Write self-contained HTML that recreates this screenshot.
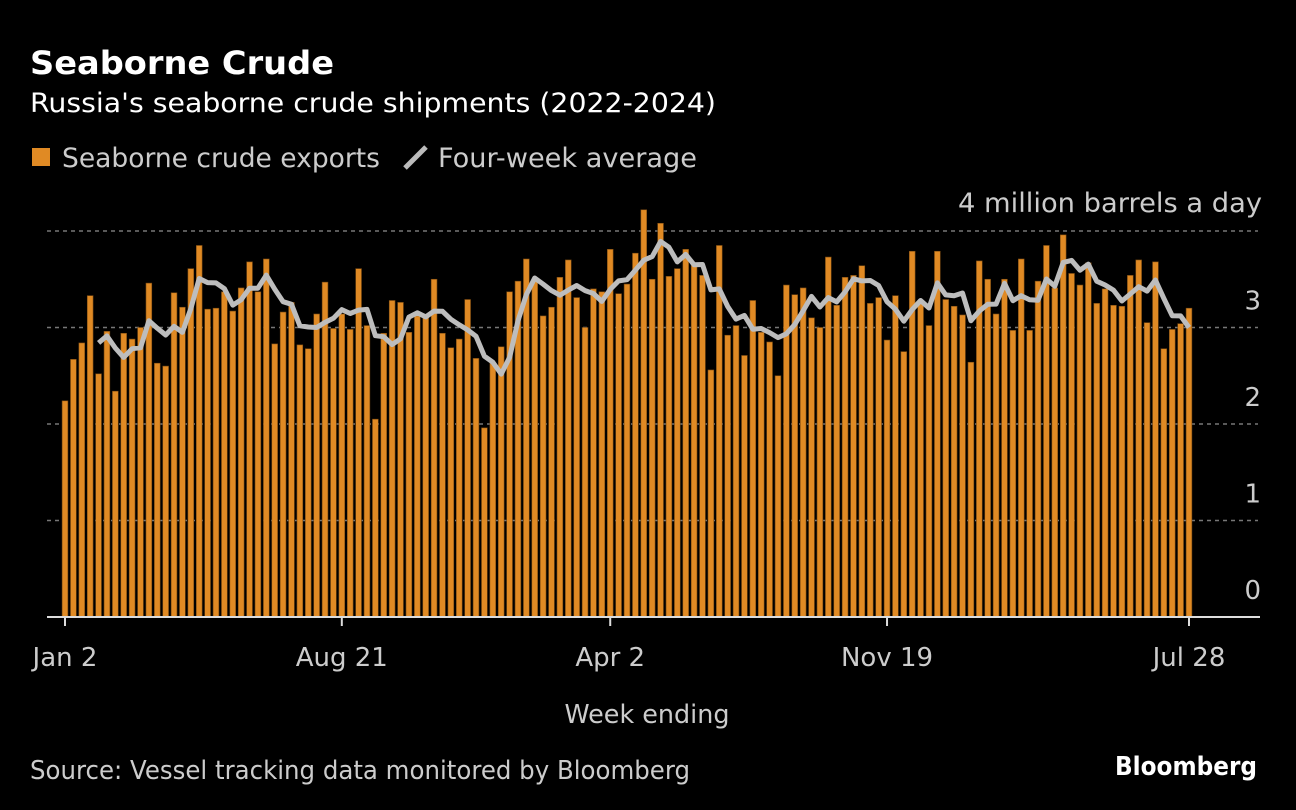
<!DOCTYPE html>
<html><head><meta charset="utf-8"><style>
html,body{margin:0;padding:0;background:#000;}
svg{display:block;font-family:"DejaVu Sans","Liberation Sans",sans-serif;}
</style></head><body>
<svg id="chart" width="1296" height="810" viewBox="0 0 1296 810">
<text x="30" y="74" fill="#fff" font-size="32" font-weight="bold" textLength="304" lengthAdjust="spacingAndGlyphs">Seaborne Crude</text>
<text x="30" y="112" fill="#fff" font-size="27" textLength="686" lengthAdjust="spacingAndGlyphs">Russia's seaborne crude shipments (2022-2024)</text>
<g>
<rect x="32" y="148" width="18" height="18" fill="#e08a24"/>
<text x="62" y="167" fill="#ccc" font-size="27" textLength="318" lengthAdjust="spacingAndGlyphs">Seaborne crude exports</text>
<line x1="405" y1="168" x2="426" y2="147" stroke="#bbb" stroke-width="5"/>
<text x="438" y="167" fill="#ccc" font-size="27" textLength="259" lengthAdjust="spacingAndGlyphs">Four-week average</text>
</g>
<text x="1262" y="212" fill="#ccc" font-size="27" text-anchor="end" textLength="304" lengthAdjust="spacingAndGlyphs">4 million barrels a day</text>
<g id="grid"></g>
<g id="bars"></g>
<g id="line"></g>
<g id="xaxis"></g>
<text x="647" y="723" fill="#ccc" font-size="26" text-anchor="middle" textLength="165" lengthAdjust="spacingAndGlyphs">Week ending</text>
<text x="30" y="779" fill="#ccc" font-size="26" textLength="660" lengthAdjust="spacingAndGlyphs">Source: Vessel tracking data monitored by Bloomberg</text>
<text x="1257" y="775" fill="#fff" font-size="26" font-weight="bold" text-anchor="end" textLength="142" lengthAdjust="spacingAndGlyphs">Bloomberg</text>
</svg>
<script>
const exportsValues=[2.24,2.67,2.84,3.33,2.52,2.96,2.34,2.94,2.88,3.00,3.46,2.63,2.60,3.36,3.21,3.61,3.85,3.19,3.20,3.37,3.17,3.41,3.68,3.37,3.71,2.83,3.16,3.26,2.82,2.78,3.14,3.47,2.99,3.14,2.98,
3.61,3.02,2.05,2.94,3.28,3.26,2.95,3.12,3.11,3.50,2.94,2.79,2.88,3.29,2.68,1.96,2.63,2.80,3.37,3.48,3.71,3.49,3.12,3.21,3.52,3.70,3.31,3.00,3.40,3.37,3.81,3.35,3.45,3.77,
4.22,3.50,4.08,3.53,3.61,3.81,3.65,3.54,2.56,3.85,2.92,3.02,2.71,3.28,2.95,2.85,2.50,3.44,3.34,3.41,3.10,3.00,3.73,3.23,3.52,3.54,3.64,3.25,3.31,2.87,3.33,2.75,3.79,3.25,
3.02,3.79,3.29,3.22,3.13,2.64,3.69,3.50,3.14,3.50,2.97,3.71,2.97,3.48,3.85,3.41,3.96,3.56,3.44,3.67,3.25,3.40,3.23,3.22,3.54,3.70,3.05,3.68,2.78,2.98,3.04,3.20];
const yTicks=[0,1,2,3,4];
const yTickLabels=["0","1","2","3",""];
const xTickIndex=[0,33,65,98,134];
const xTickLabels=["Jan 2","Aug 21","Apr 2","Nov 19","Jul 28"];
const avgWindow=4;

const NS="http://www.w3.org/2000/svg";
const x0=65,pitch=(1189-65)/(exportsValues.length-1),barW=5.8;
const yBase=617,unit=96.5;
const xs=i=>x0+i*pitch;
const ys=v=>yBase-v*unit;
function mk(tag,attrs,parent){const e=document.createElementNS(NS,tag);for(const k in attrs)e.setAttribute(k,attrs[k]);parent.appendChild(e);return e;}

const grid=document.getElementById('grid');
yTicks.forEach((t,i)=>{
  if(t>0){
    const g=mk('line',{x1:47,x2:1258,y1:ys(t),y2:ys(t),stroke:'#777','stroke-width':1.5,'stroke-dasharray':'4 4'},grid);
    
    
  }
  if(yTickLabels[i]!==""){
    const tx=mk('text',{x:1261,y:ys(t)-18,fill:'#ccc','font-size':26,'text-anchor':'end'},grid);
    tx.textContent=yTickLabels[i];
    
    
  }
});

const bars=document.getElementById('bars');
exportsValues.forEach((v,i)=>{
  const r=mk('rect',{x:xs(i)-barW/2,y:ys(v),width:barW,height:v*unit,fill:'#e08a24',stroke:'#7a4a12','stroke-width':0.6},bars);
  
  
});

const pts=[];
for(let i=avgWindow;i<exportsValues.length;i++){
  let s=0;for(let k=i-avgWindow+1;k<=i;k++)s+=exportsValues[k];
  pts.push(xs(i).toFixed(1)+','+ys(s/avgWindow).toFixed(1));
}
const pl=mk('polyline',{points:pts.join(' '),fill:'none',stroke:'#bdbdbd','stroke-width':5,'stroke-linejoin':'round'},document.getElementById('line'));



const xa=document.getElementById('xaxis');
const al=mk('line',{x1:47,x2:1260,y1:yBase,y2:yBase,stroke:'#ddd','stroke-width':2},xa);


xTickIndex.forEach((idx,i)=>{
  const t=mk('line',{x1:xs(idx),x2:xs(idx),y1:yBase,y2:yBase+9,stroke:'#ddd','stroke-width':2},xa);
  
  
  const tx=mk('text',{x:xs(idx),y:666,fill:'#ccc','font-size':26,'text-anchor':'middle'},xa);
  tx.textContent=xTickLabels[i];
  
  
});
</script>
</body></html>
